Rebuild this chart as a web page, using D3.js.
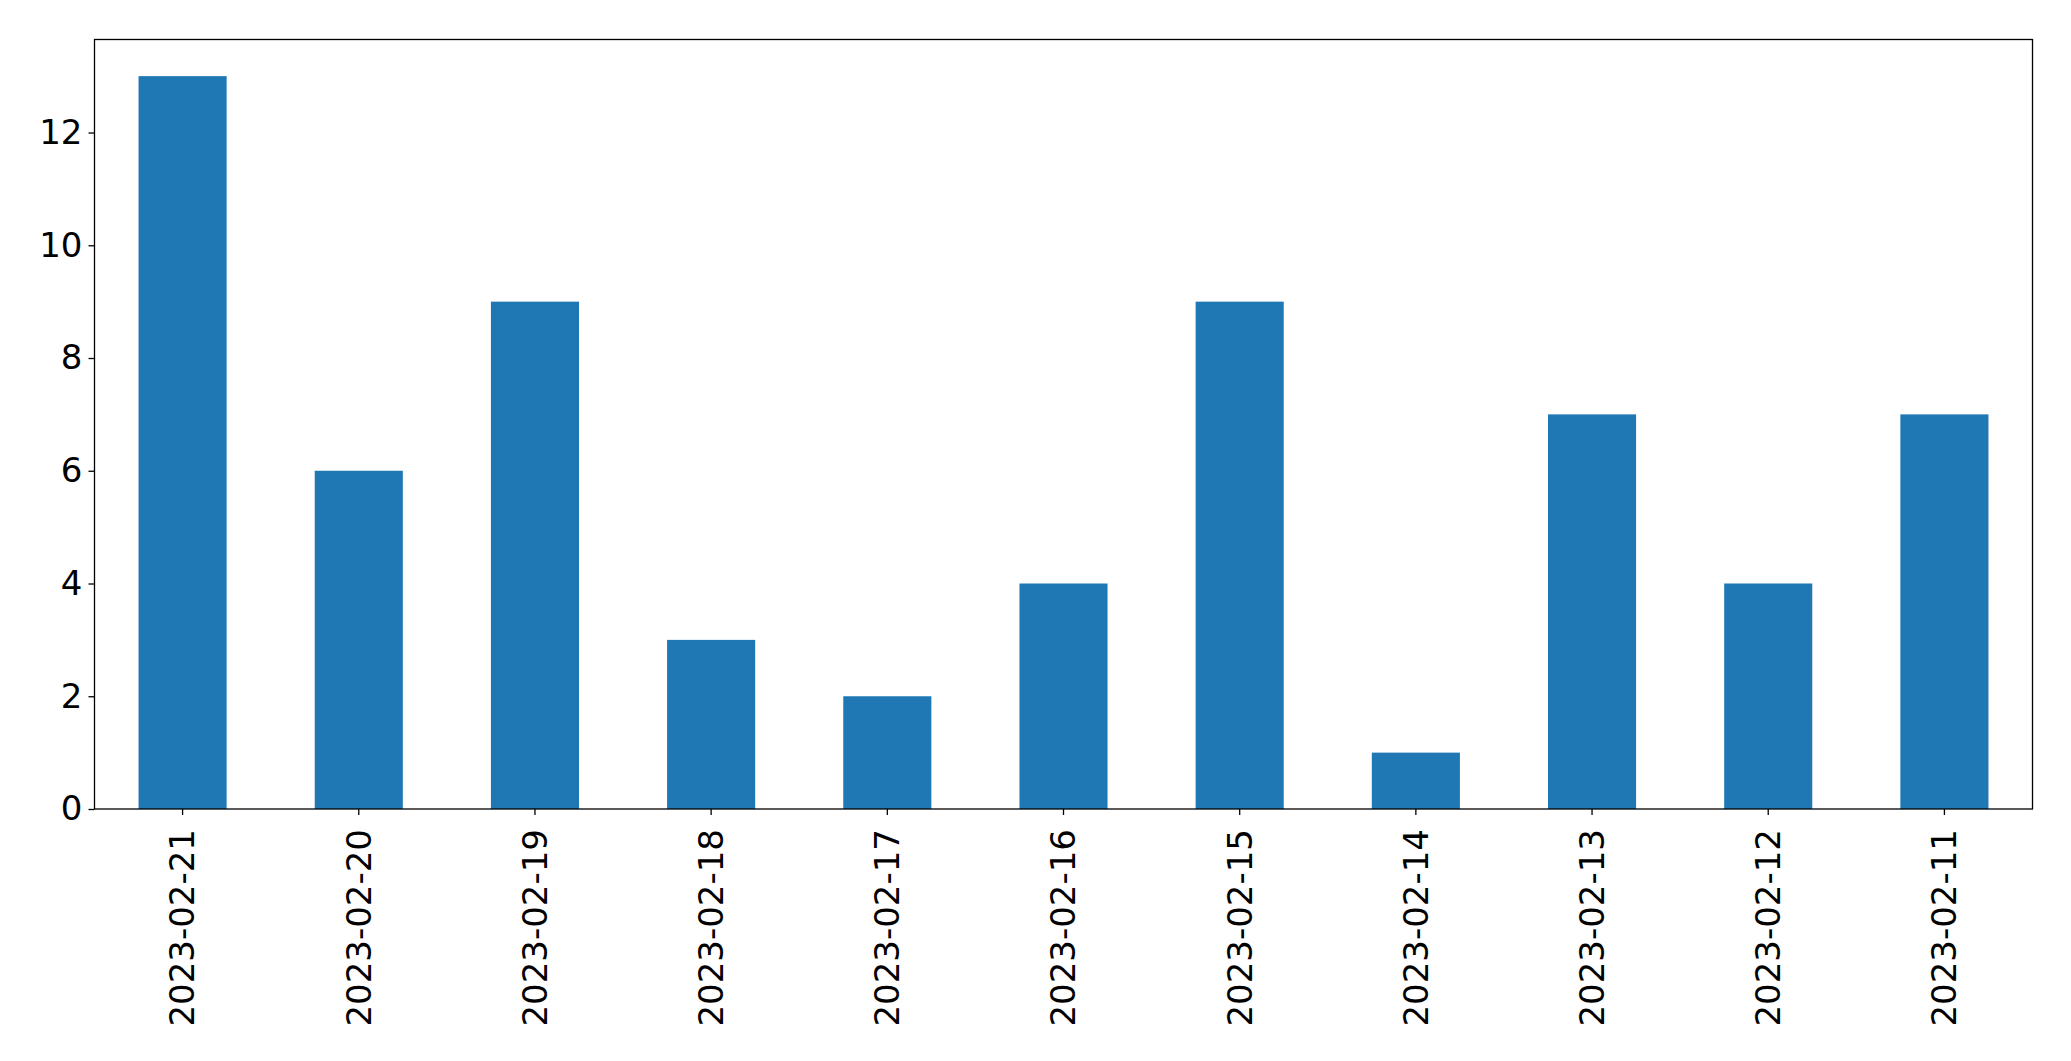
<!DOCTYPE html>
<html><head><meta charset="utf-8">
<script src="https://cdn.jsdelivr.net/npm/d3@7"></script>
<style>body{margin:0;background:#fff;} svg{display:block;}</style>
</head><body>
<script>
const categories = ["2023-02-21","2023-02-20","2023-02-19","2023-02-18","2023-02-17","2023-02-16","2023-02-15","2023-02-14","2023-02-13","2023-02-12","2023-02-11"];
const values = [13,6,9,3,2,4,9,1,7,4,7];
const yTicks = [0,2,4,6,8,10,12];

const W = 2071, H = 1061;
const m = {left: 94.5, right: 2032.5, top: 39.5, bottom: 809};
const svg = d3.select("body").append("svg").attr("width", W).attr("height", H);

const x = d3.scaleBand().domain(categories).range([m.left, m.right]).paddingInner(0.5).paddingOuter(0.25);
const y = d3.scaleLinear().domain([0, d3.max(values) * 1.05]).range([m.bottom, m.top]);

svg.append("g").selectAll("rect").data(values).join("rect")
  .attr("x", (d, i) => x(categories[i]))
  .attr("width", x.bandwidth())
  .attr("y", d => y(d))
  .attr("height", d => y(0) - y(d))
  .attr("fill", "#1f77b4");

const font = "DejaVu Sans, sans-serif";
const yAxis = svg.append("g").attr("transform", `translate(${m.left},0)`)
  .call(d3.axisLeft(y).tickValues(yTicks).tickSize(6).tickPadding(6).tickFormat(d3.format("d")));
yAxis.select(".domain").remove();
yAxis.selectAll("line").attr("stroke", "#000").attr("stroke-width", 1.3);
yAxis.selectAll("text").attr("font-family", font).attr("font-size", 34).attr("fill", "#000");

const xAxis = svg.append("g").attr("transform", `translate(0,${m.bottom})`)
  .call(d3.axisBottom(x).tickSize(6).tickPadding(8));
xAxis.select(".domain").remove();
xAxis.selectAll("line").attr("stroke", "#000").attr("stroke-width", 1.3);
xAxis.selectAll("text")
  .attr("font-family", font).attr("font-size", 34).attr("fill", "#000")
  .attr("transform", "rotate(-90)")
  .attr("text-anchor", "end")
  .attr("x", -20).attr("y", 0).attr("dy", "0.35em");

svg.append("rect").attr("x", m.left).attr("y", m.top)
  .attr("width", m.right - m.left).attr("height", m.bottom - m.top)
  .attr("fill", "none").attr("stroke", "#000").attr("stroke-width", 1.3);
</script>
</body></html>
